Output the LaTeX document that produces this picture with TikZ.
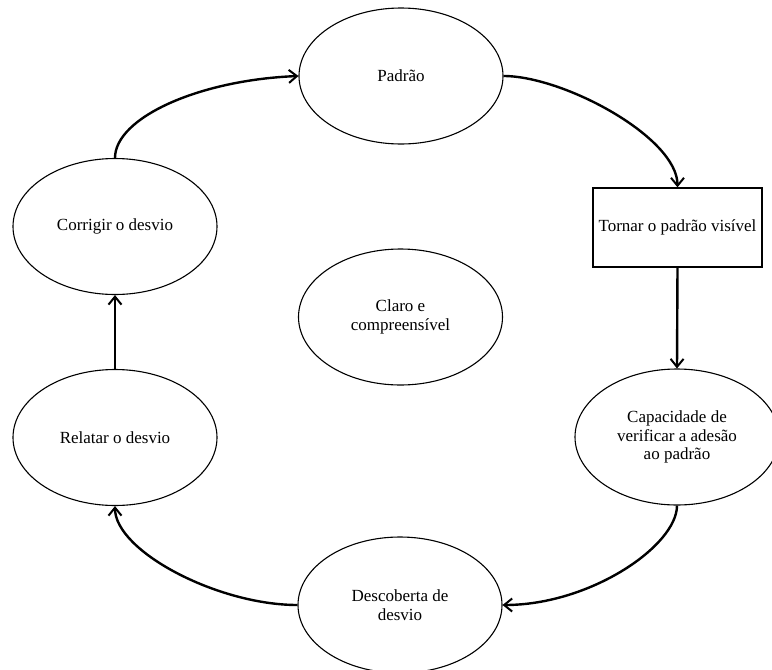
\documentclass[tikz,border=0pt]{standalone}
\usepackage{fontspec}
\setmainfont{Liberation Serif}
\usetikzlibrary{shapes.geometric,arrows.meta}
\tikzset{
  stage/.style={ellipse, draw, line width=1.1pt, minimum width=204pt, minimum height=136pt,
    inner sep=0pt, align=center, font=\fontsize{17}{18.5}\selectfont},
  panel/.style={rectangle, draw, line width=1.3pt, minimum width=169pt, minimum height=79pt,
    inner sep=0pt, align=center, font=\fontsize{17}{18.5}\selectfont},
  flow/.style={line width=2.4pt, -{Straight Barb[length=8pt,width=13pt,line width=2pt]}}
}
\begin{document}
\begin{tikzpicture}[x=1pt,y=-1pt]
  \useasboundingbox (0,0) rectangle (772,670);
  \node[stage] (pad) at (401,76) {Padrão};
  \node[panel] (tor) at (677.5,227.5) {Tornar o padrão visível};
  \node[stage] (cap) at (677,437) {Capacidade de\\verificar a adesão\\ao padrão};
  \node[stage] (des) at (400,605) {Descoberta de\\desvio};
  \node[stage] (rel) at (115,437.5) {Relatar o desvio};
  \node[stage] (cor) at (115,226.5) {Corrigir o desvio};
  \node[stage] (cla) at (400.5,317) {Claro e\\compreensível};

  \draw[flow] (cor.north) .. controls +(0,-40) and +(-100,4) .. (pad.west);
  \draw[flow] (pad.east) .. controls +(60,0) and +(0,-50) .. (tor.north);
  \draw[flow] (tor.south) -- (cap.north);
  \draw[flow] (cap.south) .. controls +(0,40) and +(88,0) .. (des.east);
  \draw[flow] (des.west) .. controls +(-80,0) and +(0,45) .. (rel.south);
  \draw[flow] (rel.north) -- (cor.south);
\end{tikzpicture}
\end{document}
